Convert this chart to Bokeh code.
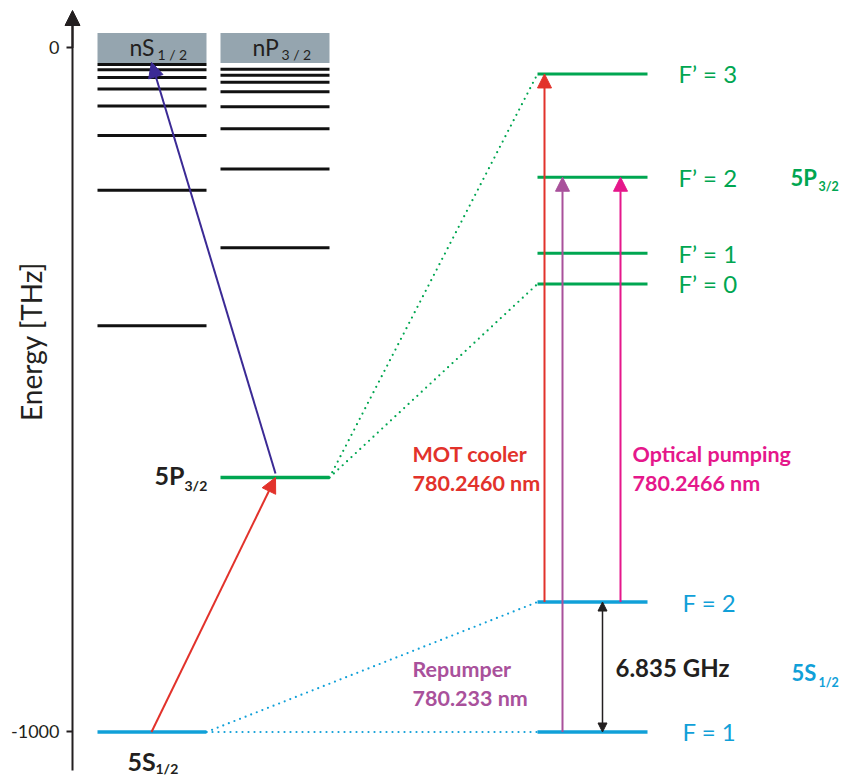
from math import pi

from bokeh.core.properties import value
from bokeh.embed import file_html
from bokeh.models import Arrow, ColumnDataSource, FixedTicker, NormalHead, Range1d
from bokeh.plotting import figure
from bokeh.resources import INLINE

# ---------------------------------------------------------------- data
# Rydberg series below the ionisation threshold, energies in THz
ns_levels = [-24, -32, -43, -60, -85, -128, -208, -406]
np_levels = [-31, -40, -50, -64, -86, -118, -177, -292]
continuum_half = 22          # half height of the grey continuum band around 0

e_5s = -1000                 # 5S1/2 ground state
e_5p = -628                  # 5P3/2 excited state

# hyperfine manifolds (schematic, on the right hand side)
hfs_5p_labels = ["F’ = 3", "F’ = 2", "F’ = 1", "F’ = 0"]
hfs_5p_levels = [-38, -189, -300, -345]
hfs_5s_labels = ["F = 2", "F = 1"]
hfs_5s_levels = [-810, -1000]

axis_ticks = [0, -1000]
axis_tick_labels = ["0", "-1000"]

# laser transitions between hyperfine levels: (lower F, upper F', wavelength)
transitions = {
    "MOT cooler": (2, 3, "780.2460 nm"),
    "Repumper": (1, 2, "780.233 nm"),
    "Optical pumping": (2, 2, "780.2466 nm"),
}
ground_splitting = "6.835 GHz"

# ---------------------------------------------------------------- style
GREEN = "#00a651"
BLUE = "#10a0d8"
RED = "#e2322b"
MAUVE = "#a9519b"
MAGENTA = "#e5178b"
INDIGO = "#3b2a95"
DARK = "#231f20"
GREY = "#95a5af"
FONT = "Lato"

# column positions (x in canvas-like units)
AXIS_X = 72
NS_X = (97, 206)
NP_X = (220, 329)
HFS_X = (537, 647)
X_MOT, X_REP, X_OP, X_SPLIT = 544, 562, 620, 602

p = figure(
    width=842, height=778,
    x_range=Range1d(0, 842), y_range=Range1d(-1068, 69.4),
    output_backend="svg", toolbar_location=None,
    min_border=0,
)
p.xaxis.visible = False
p.grid.visible = False
p.outline_line_color = None
p.background_fill_color = "white"

# energy axis placed inside the frame
yax = p.yaxis[0]
yax.fixed_location = AXIS_X
yax.ticker = FixedTicker(ticks=axis_ticks)
yax.major_label_overrides = dict(zip(axis_ticks, axis_tick_labels))
yax.bounds = (-1056, 52)
yax.axis_line_color = DARK
yax.axis_line_width = 2
yax.major_tick_line_color = DARK
yax.major_tick_line_width = 2
yax.major_tick_in = 0
yax.major_tick_out = 6
yax.minor_tick_line_color = None
yax.major_label_standoff = 7
yax.major_label_text_font = FONT
yax.major_label_text_font_size = "18px"
yax.major_label_text_color = DARK

# arrow tip on top of the energy axis
p.add_layout(Arrow(end=NormalHead(size=15, fill_color=DARK, line_color=DARK),
                   x_start=AXIS_X, y_start=0, x_end=AXIS_X, y_end=54.8,
                   line_color=DARK, line_width=2))


def put(x, y, text, color, size, bold=False, align="left", angle=0.0):
    src = ColumnDataSource(dict(x=[x], y=[y], t=[text]))
    p.text(x="x", y="y", text="t", source=src, text_color=color,
           text_font=value(FONT), text_font_size=f"{size}px",
           text_font_style="bold" if bold else "normal",
           text_align=align, text_baseline="middle", angle=angle)


put(30, -429, "Energy [THz]", DARK, 28, align="center", angle=pi / 2)

# ---------------------------------------------------------------- left: gross structure
for x0, x1 in (NS_X, NP_X):
    p.quad(left=x0, right=x1, bottom=-continuum_half, top=continuum_half,
           fill_color=GREY, line_color=None)

p.segment(x0=[NS_X[0]] * len(ns_levels), x1=[NS_X[1]] * len(ns_levels),
          y0=ns_levels, y1=ns_levels, line_color="#111111", line_width=3)
p.segment(x0=[NP_X[0]] * len(np_levels), x1=[NP_X[1]] * len(np_levels),
          y0=np_levels, y1=np_levels, line_color="#111111", line_width=3)

p.segment(x0=NS_X[0], x1=NS_X[1], y0=e_5s, y1=e_5s, line_color=BLUE, line_width=3.5)
p.segment(x0=NP_X[0], x1=NP_X[1], y0=e_5p, y1=e_5p, line_color=GREEN, line_width=3.5)

# 5S -> 5P -> Rydberg excitation
p.add_layout(Arrow(end=NormalHead(size=15, fill_color=RED, line_color=RED),
                   x_start=151, y_start=e_5s, x_end=275, y_end=e_5p,
                   line_color=RED, line_width=2))
p.add_layout(Arrow(end=NormalHead(size=15, fill_color=INDIGO, line_color=INDIGO),
                   x_start=275, y_start=e_5p + 6, x_end=151, y_end=-continuum_half + 1,
                   line_color=INDIGO, line_width=2))

# ---------------------------------------------------------------- right: hyperfine structure
n5p, n5s = len(hfs_5p_levels), len(hfs_5s_levels)
p.segment(x0=[HFS_X[0]] * n5p, x1=[HFS_X[1]] * n5p, y0=hfs_5p_levels, y1=hfs_5p_levels,
          line_color=GREEN, line_width=3)
p.segment(x0=[HFS_X[0]] * n5s, x1=[HFS_X[1]] * n5s, y0=hfs_5s_levels, y1=hfs_5s_levels,
          line_color=BLUE, line_width=3.5)

# dotted zoom lines from the fine-structure levels to their hyperfine manifolds
p.segment(x0=[NP_X[1]] * 2, y0=[e_5p] * 2, x1=[HFS_X[0]] * 2,
          y1=[hfs_5p_levels[0], hfs_5p_levels[-1]],
          line_color=GREEN, line_width=2.2, line_dash="0 6", line_cap="round")
p.segment(x0=[NS_X[1]] * 2, y0=[e_5s] * 2, x1=[HFS_X[0]] * 2,
          y1=[hfs_5s_levels[0], hfs_5s_levels[-1]],
          line_color=BLUE, line_width=2.2, line_dash="0 6", line_cap="round")

upper = dict(zip([3, 2, 1, 0], hfs_5p_levels))
lower = dict(zip([2, 1], hfs_5s_levels))
for name, x, color in (("MOT cooler", X_MOT, RED), ("Repumper", X_REP, MAUVE),
                       ("Optical pumping", X_OP, MAGENTA)):
    f_lo, f_hi, _ = transitions[name]
    p.add_layout(Arrow(end=NormalHead(size=14, fill_color=color, line_color=color),
                       x_start=x, y_start=lower[f_lo], x_end=x, y_end=upper[f_hi],
                       line_color=color, line_width=2))

p.add_layout(Arrow(start=NormalHead(size=9, fill_color=DARK, line_color=DARK),
                   end=NormalHead(size=9, fill_color=DARK, line_color=DARK),
                   x_start=X_SPLIT, y_start=lower[1], x_end=X_SPLIT, y_end=lower[2],
                   line_color=DARK, line_width=1.5))

# ---------------------------------------------------------------- texts
for lab, lev in zip(hfs_5p_labels, hfs_5p_levels):
    put(678, lev, lab, GREEN, 24)
for lab, lev in zip(hfs_5s_labels, hfs_5s_levels):
    put(682, lev, lab, BLUE, 24)

for name, color, y0 in (("MOT cooler", RED, -593), ("Optical pumping", MAGENTA, -593),
                        ("Repumper", MAUVE, -908)):
    x = 632 if name == "Optical pumping" else 412
    put(x, y0, name, color, 21.5, bold=True)
    put(x, y0 - 42.5, transitions[name][2], color, 21.5, bold=True)

put(615, -906, ground_splitting, DARK, 24, bold=True)

# state labels with subscripts
put(790, upper[2], "5P", GREEN, 22, bold=True)
put(818, upper[2] - 14, "3/2", GREEN, 12.5, bold=True)
put(791, -913, "5S", BLUE, 22, bold=True)
put(818, -928, "1/2", BLUE, 12.5, bold=True)

put(154, e_5p + 3, "5P", DARK, 25, bold=True)
put(184, e_5p - 12, "3/2", DARK, 14, bold=True)
put(127, e_5s - 42, "5S", DARK, 25, bold=True)
put(155, e_5s - 54, "1/2", DARK, 14, bold=True)

put(129, 1, "nS", DARK, 23)
put(157, -10, "1 / 2", DARK, 14)
put(252, 1, "nP", DARK, 23)
put(281, -10, "3 / 2", DARK, 14)

open("out.html", "w").write(file_html(p, INLINE))
